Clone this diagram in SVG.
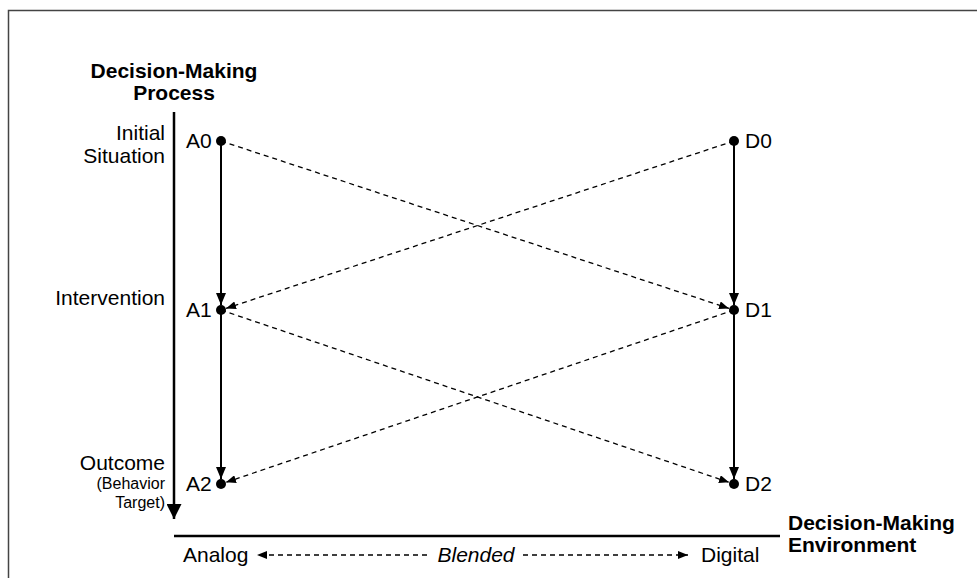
<svg xmlns="http://www.w3.org/2000/svg" width="977" height="578" viewBox="0 0 977 578">
  <defs>
    <style>
      .lbl { font-family: "Liberation Sans", Arial, sans-serif; font-size: 21px; fill: #000; }
      .small { font-family: "Liberation Sans", Arial, sans-serif; font-size: 16px; fill: #000; }
      .bold { font-family: "Liberation Sans", Arial, sans-serif; font-size: 21px; font-weight: bold; fill: #000; }
      .solid { stroke: #000; stroke-width: 2; fill: none; }
      .dash { stroke: #000; stroke-width: 1.3; stroke-dasharray: 5 4; fill: none; }
      .dot { fill: #000; }
    </style>
    <marker id="headSolid" viewBox="0 0 12 10" refX="12" refY="5" markerWidth="12" markerHeight="10" markerUnits="userSpaceOnUse" orient="auto">
      <path d="M0,0 L12,5 L0,10 Z" fill="#000"/>
    </marker>
    <marker id="headDash" viewBox="0 0 10 8" refX="10" refY="4" markerWidth="10" markerHeight="8" markerUnits="userSpaceOnUse" orient="auto">
      <path d="M0,0 L10,4 L0,8 Z" fill="#000"/>
    </marker>
    <marker id="headAxis" viewBox="0 0 15 15" refX="15" refY="7.5" markerWidth="15" markerHeight="15" markerUnits="userSpaceOnUse" orient="auto">
      <path d="M0,0 L15,7.5 L0,15 Z" fill="#000"/>
    </marker>
  </defs>

  <rect width="977" height="578" fill="#fff"/>
  <!-- outer frame, runs past the right and bottom edges -->
  <path d="M8.5,590 L8.5,10.5 L990,10.5" fill="none" stroke="#444" stroke-width="1.5"/>

  <!-- process axis -->
  <g id="process-axis">
    <line x1="174" y1="112" x2="174" y2="519" stroke="#000" stroke-width="2.5" marker-end="url(#headAxis)"/>
    <text class="bold" x="174" y="78" text-anchor="middle">Decision-Making</text>
    <text class="bold" x="174" y="100" text-anchor="middle">Process</text>
    <text class="lbl" x="165" y="140" text-anchor="end">Initial</text>
    <text class="lbl" x="165" y="163" text-anchor="end">Situation</text>
    <text class="lbl" x="165" y="305" text-anchor="end">Intervention</text>
    <text class="lbl" x="165" y="470" text-anchor="end">Outcome</text>
    <text class="small" x="165" y="489" text-anchor="end">(Behavior</text>
    <text class="small" x="165" y="508" text-anchor="end">Target)</text>
  </g>

  <!-- environment axis -->
  <g id="environment-axis">
    <line x1="174" y1="536" x2="780" y2="536" stroke="#000" stroke-width="2.5"/>
    <text class="lbl" x="183" y="562">Analog</text>
    <line class="dash" x1="427" y1="555" x2="257" y2="555" marker-end="url(#headDash)"/>
    <text class="lbl" x="476" y="562" text-anchor="middle" font-style="italic">Blended</text>
    <line class="dash" x1="523" y1="555" x2="688" y2="555" marker-end="url(#headDash)"/>
    <text class="lbl" x="701" y="562">Digital</text>
    <text class="bold" x="788" y="530">Decision-Making</text>
    <text class="bold" x="788" y="552">Environment</text>
  </g>

  <!-- connectors -->
  <g id="connectors">
    <line class="solid" x1="221" y1="141" x2="221" y2="305" marker-end="url(#headSolid)"/>
    <line class="solid" x1="221" y1="310" x2="221" y2="479" marker-end="url(#headSolid)"/>
    <line class="solid" x1="734" y1="141" x2="734" y2="305" marker-end="url(#headSolid)"/>
    <line class="solid" x1="734" y1="310" x2="734" y2="479" marker-end="url(#headSolid)"/>
    <line class="dash" x1="221" y1="141" x2="729" y2="308.4" marker-end="url(#headDash)"/>
    <line class="dash" x1="734" y1="141" x2="226" y2="308.4" marker-end="url(#headDash)"/>
    <line class="dash" x1="221" y1="310" x2="729" y2="482.3" marker-end="url(#headDash)"/>
    <line class="dash" x1="734" y1="310" x2="226" y2="482.3" marker-end="url(#headDash)"/>
  </g>

  <!-- nodes -->
  <g id="A0"><circle class="dot" cx="221" cy="141" r="5"/><text class="lbl" x="186" y="148">A0</text></g>
  <g id="A1"><circle class="dot" cx="221" cy="310" r="5"/><text class="lbl" x="186" y="317">A1</text></g>
  <g id="A2"><circle class="dot" cx="221" cy="484" r="5"/><text class="lbl" x="186" y="491">A2</text></g>
  <g id="D0"><circle class="dot" cx="734" cy="141" r="5"/><text class="lbl" x="745" y="148">D0</text></g>
  <g id="D1"><circle class="dot" cx="734" cy="310" r="5"/><text class="lbl" x="745" y="317">D1</text></g>
  <g id="D2"><circle class="dot" cx="734" cy="484" r="5"/><text class="lbl" x="745" y="491">D2</text></g>
</svg>
